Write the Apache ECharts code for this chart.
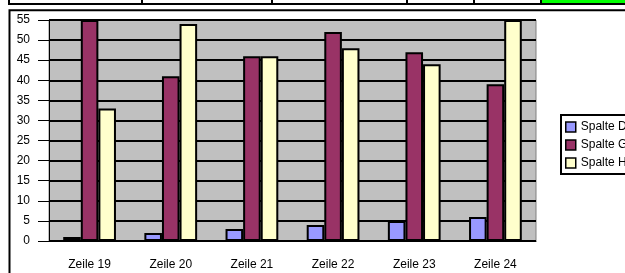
<!DOCTYPE html>
<html>
<head>
<meta charset="utf-8">
<style>
  html, body { margin: 0; padding: 0; background: #fff; }
  #chart { width: 625px; height: 273px; }
</style>
<script src="https://cdn.jsdelivr.net/npm/echarts@6/dist/echarts.min.js"></script>
</head>
<body>
<div id="chart"></div>
<script>
const categories = ["Zeile 19", "Zeile 20", "Zeile 21", "Zeile 22", "Zeile 23", "Zeile 24"];
const spalteD = [1, 2, 3, 4, 5, 6];
const spalteG = [55, 41, 46, 52, 47, 39];
const spalteH = [33, 54, 46, 48, 44, 55];
const yTicks = { min: 0, max: 55, interval: 5 };

const chart = echarts.init(document.getElementById("chart"));

function barSeries(name, data, color) {
  return {
    name,
    type: "bar",
    data,
    barGap: "0%",
    barCategoryGap: "35%",
    itemStyle: { color, borderColor: "#000", borderWidth: 2 },
  };
}

// sheet strip above the chart and the chart frame
const stripCells = [9, 142, 272, 407, 474, 541];
const decor = [
  { type: "rect", shape: { x: 542, y: 0, width: 90, height: 3 }, style: { fill: "#00ff00" }, silent: true },
  { type: "line", shape: { x1: 8, y1: 4, x2: 625, y2: 4 }, style: { stroke: "#000", lineWidth: 2 }, silent: true },
  { type: "rect", shape: { x: 9.5, y: 10.3, width: 700, height: 400 }, style: { fill: null, stroke: "#000", lineWidth: 2 }, silent: true },
].concat(stripCells.map((x) => ({
  type: "line",
  shape: { x1: x, y1: -2, x2: x, y2: 4 },
  style: { stroke: "#000", lineWidth: 2 },
  silent: true,
})));

chart.setOption({
  animation: false,
  textStyle: { fontFamily: "Liberation Sans, Arial, sans-serif" },
  graphic: decor,
  grid: {
    left: 49, right: 89, top: 20, bottom: 32,
    show: true,
    backgroundColor: "#c0c0c0",
    borderColor: "#808080",
    borderWidth: 1,
  },
  legend: {
    orient: "vertical",
    left: 561,
    top: 115,
    padding: [5, 60, 4, 4],
    borderColor: "#000",
    borderWidth: 2,
    backgroundColor: "#fff",
    itemWidth: 10,
    itemHeight: 10,
    itemGap: 4,
    icon: "rect",
    itemStyle: { borderColor: "#000", borderWidth: 1.5 },
    textStyle: { fontSize: 12, color: "#000", lineHeight: 14, fontFamily: "Liberation Sans, Arial, sans-serif" },
    data: ["Spalte D", "Spalte G", "Spalte H"],
  },
  xAxis: {
    type: "category",
    data: categories,
    axisLine: { lineStyle: { color: "#000", width: 1 } },
    axisTick: { length: 11, lineStyle: { color: "#000" } },
    axisLabel: { color: "#000", fontSize: 12, margin: 18 },
    splitLine: { show: false },
  },
  yAxis: {
    type: "value",
    min: yTicks.min,
    max: yTicks.max,
    interval: yTicks.interval,
    axisLine: { show: true, lineStyle: { color: "#000", width: 1 } },
    axisTick: { show: true, length: 11, lineStyle: { color: "#000" } },
    axisLabel: { color: "#000", fontSize: 12, margin: 19 },
    splitLine: { show: true, lineStyle: { color: "#000", width: 2 } },
  },
  series: [
    barSeries("Spalte D", spalteD, "#9999ff"),
    barSeries("Spalte G", spalteG, "#993366"),
    barSeries("Spalte H", spalteH, "#ffffcc"),
  ],
});
</script>
</body>
</html>
